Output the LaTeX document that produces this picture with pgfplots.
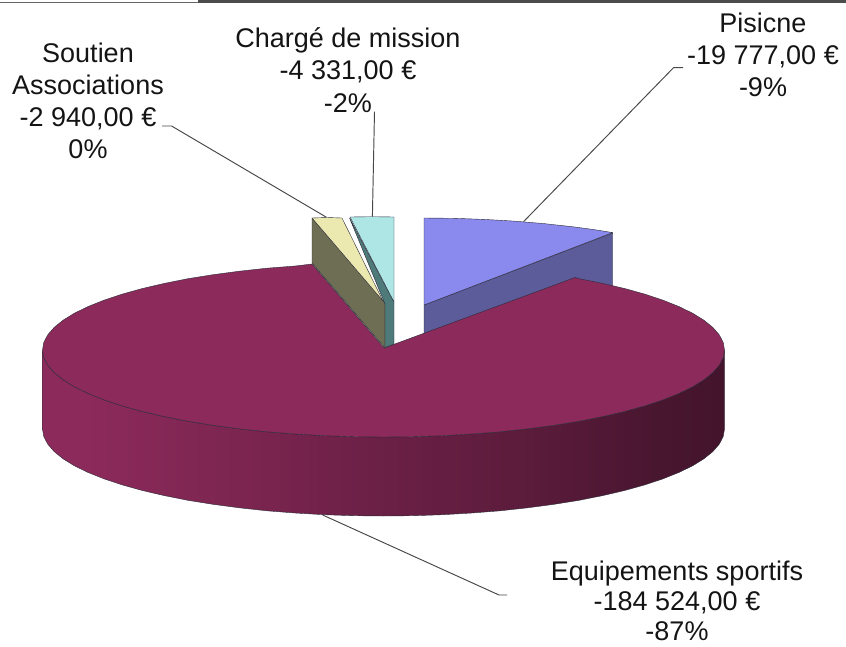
\documentclass[border=0pt]{standalone}
\usepackage{pgfplots}
\pgfplotsset{compat=1.18}
\usepackage{fontspec}
\setmainfont{Liberation Sans}
\definecolor{maroon}{HTML}{8C2A5B}
\definecolor{edgec}{HTML}{2A2A38}
\pgfdeclarehorizontalshading{pieside}{100bp}{
 color(0bp)=(maroon);
 color(28bp)=(maroon);
 color(40bp)=(maroon!88!black);
 color(50bp)=(maroon!76!black);
 color(60bp)=(maroon!66!black);
 color(70bp)=(maroon!52!black);
 color(85bp)=(maroon!40!black);
 color(100bp)=(maroon!38!black)}
\begin{document}
\begin{tikzpicture}
\begin{axis}[
 hide axis, scale only axis, width=846pt, height=646pt,
 xmin=0, xmax=846, ymin=0, ymax=646, y dir=reverse, clip=true,
 every axis plot/.append style={line join=round},
]
% top frame of the screenshot
\addplot[fill=black!70, draw=none] coordinates {(198,0) (846,0) (846,3) (198,3)} -- cycle;
\addplot[fill=black!60, draw=none] coordinates {(0,1.5) (198,1.5) (198,3) (0,3)} -- cycle;
% Pisicne: side, top
\addplot[fill={rgb,255:red,92;green,92;blue,155}, draw=edgec, thin] coordinates {(424,305) (612.7,233) (612.7,295) (424,340)} -- cycle;
\addplot[fill={rgb,255:red,138;green,138;blue,238}, draw=edgec, thin] coordinates {(424,218) (454,218.3) (484,219.4) (514,221.1) (544,223.6) (574,226.9) (594,229.6) (612.7,232.6) (424,305)} -- cycle;
% Equipements sportifs: side
\addplot[shading=pieside, draw=edgec, thin] coordinates {
 (724.5,350) (723.2,357.6) (719.3,365.1) (712.9,372.5) (703.9,379.8) (692.6,386.8) (678.8,393.5) (662.8,399.9) (644.7,405.9) (624.6,411.5) (602.7,416.6) (579.1,421.3) (554,425.3) (527.6,428.8) (500.1,431.8) (471.8,434) (442.7,435.7) (413.2,436.7) (383.5,437) (353.8,436.7) (324.3,435.7) (295.2,434) (266.9,431.8) (239.4,428.8) (213,425.3) (187.9,421.3) (164.3,416.6) (142.4,411.5) (122.3,405.9) (104.2,399.9) (88.2,393.5) (74.4,386.8) (63.1,379.8) (54.1,372.5) (47.7,365.1) (43.8,357.6) (42.5,350)
 (42.5,429) (43.8,436.6) (47.7,444.1) (54.1,451.5) (63.1,458.8) (74.4,465.8) (88.2,472.5) (104.2,478.9) (122.3,484.9) (142.4,490.5) (164.3,495.6) (187.9,500.3) (213,504.3) (239.4,507.8) (266.9,510.8) (295.2,513) (324.3,514.7) (353.8,515.7) (383.5,516) (413.2,515.7) (442.7,514.7) (471.8,513) (500.1,510.8) (527.6,507.8) (554,504.3) (579.1,500.3) (602.7,495.6) (624.6,490.5) (644.7,484.9) (662.8,478.9) (678.8,472.5) (692.6,465.8) (703.9,458.8) (712.9,451.5) (719.3,444.1) (723.2,436.6) (724.5,429)
} -- cycle;
% Equipements sportifs: top
\addplot[fill=maroon, draw=edgec, thin] coordinates {
 (384,348) (575,277.5) (579.1,278.7) (602.7,283.4) (624.6,288.5) (644.7,294.1) (662.8,300.1) (678.8,306.5) (692.6,313.2) (703.9,320.2) (712.9,327.5) (719.3,334.9) (723.2,342.4)
 (724.5,350) (723.2,357.6) (719.3,365.1) (712.9,372.5) (703.9,379.8) (692.6,386.8) (678.8,393.5) (662.8,399.9) (644.7,405.9) (624.6,411.5) (602.7,416.6) (579.1,421.3) (554,425.3) (527.6,428.8) (500.1,431.8) (471.8,434) (442.7,435.7) (413.2,436.7) (383.5,437) (353.8,436.7) (324.3,435.7) (295.2,434) (266.9,431.8) (239.4,428.8) (213,425.3) (187.9,421.3) (164.3,416.6) (142.4,411.5) (122.3,405.9) (104.2,399.9) (88.2,393.5) (74.4,386.8) (63.1,379.8) (54.1,372.5) (47.7,365.1) (43.8,357.6) (42.5,350)
 (43.8,342.4) (47.7,334.9) (54.1,327.5) (63.1,320.2) (74.4,313.2) (88.2,306.5) (104.2,300.1) (122.3,294.1) (142.4,288.5) (164.3,283.4) (187.9,278.7) (213,274.7) (239.4,271.2) (266.9,268.2) (295.2,266) (312,264)
} -- cycle;
% Soutien Associations: side, top
\addplot[fill={rgb,255:red,110;green,110;blue,84}, draw=edgec, thin] coordinates {(312,218) (385,303) (385,348) (312,263)} -- cycle;
\addplot[fill={rgb,255:red,235;green,232;blue,176}, draw=edgec, thin] coordinates {(312,218) (327,217.5) (342,218) (383,301)} -- cycle;
% Charge de mission: side, top
\addplot[fill={rgb,255:red,79;green,122;blue,122}, draw=edgec, thin] coordinates {(349.5,218) (394,302) (394,344) (385,347.5) (385,304)} -- cycle;
\addplot[fill={rgb,255:red,174;green,230;blue,230}, draw=edgec, thin] coordinates {(350,217) (372,216.7) (394,217) (394,302)} -- cycle;
% leader lines
\addplot[draw=black!72, line width=0.95pt] coordinates {(683,67.7) (673.5,67.7) (523.5,221.7)};
\addplot[draw=black!72, line width=0.95pt] coordinates {(374.5,111.7) (372.4,216.7)};
\addplot[draw=black!72, line width=0.95pt] coordinates {(162,126) (171.6,126) (326.5,217.3)};
\addplot[draw=black!72, line width=0.95pt] coordinates {(322.7,515) (499,595) (507,595)};
% labels
\newcommand{\lbl}[2]{\node[font=\fontsize{27}{32.2}\selectfont, align=center, inner sep=0pt, text=black!92] at (axis cs:#1) {#2};}
\newcommand{\lin}[2]{\node[font=\fontsize{27}{32.2}\selectfont, anchor=base, inner sep=0pt, text=black!92] at (axis cs:#1) {#2};}
\lbl{763,55}{Pisicne\\-19 777,00 €\\-9\%}
\lbl{348,70}{Chargé de mission\\-4 331,00 €\\-2\%}
\lbl{88,101}{Soutien\\Associations\\-2 940,00 €\\0\%}
\lin{677,580}{Equipements sportifs}
\lin{677,610.5}{-184 524,00 €}
\lin{677,640}{-87\%}
\end{axis}
\pgfresetboundingbox
\path[use as bounding box] (current axis.south west) rectangle (current axis.north east);
\end{tikzpicture}
\end{document}
